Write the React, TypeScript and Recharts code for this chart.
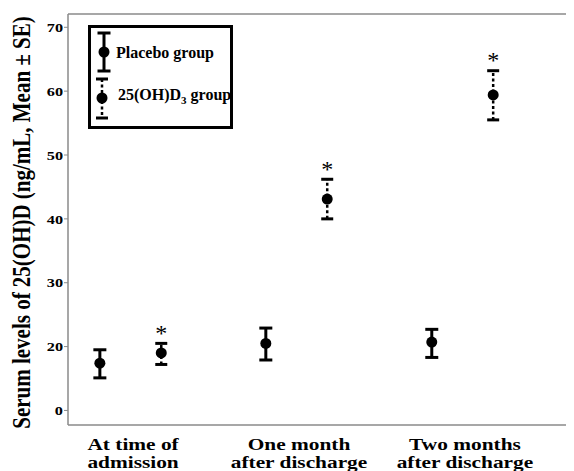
import React from "react";
import {
  ScatterChart,
  Scatter,
  XAxis,
  YAxis,
  ErrorBar,
  ReferenceLine,
  Legend,
  LabelList,
} from "recharts";

// ---------- data ----------
const categories = ["At time of admission", "One month after discharge", "Two months after discharge"];
const categoryLines = [
  ["At time of", "admission"],
  ["One month", "after discharge"],
  ["Two months", "after discharge"],
];
const placeboMean = [17.4, 20.5, 20.7];
const placeboUpper = [19.5, 22.9, 22.7];
const placeboLower = [15.1, 17.9, 18.3];
const d3Mean = [19.0, 43.1, 59.4];
const d3Upper = [20.5, 46.2, 63.2];
const d3Lower = [17.2, 40.0, 55.5];
const d3Marks = ["*", "*", "*"];
const yTickValues = [10, 20, 30, 40, 50, 60, 70];
const yTickLabels = ["0", "20", "30", "40", "50", "60", "70"];
const seriesNames = ["Placebo group", "25(OH)D3 group"];
const yTitle = "Serum levels of 25(OH)D (ng/mL, Mean \u00B1 SE)";

// ---------- layout / style ----------
const FONT = '"Liberation Serif", "Times New Roman", serif';
const AXIS_GRAY = "#8a8a8a";
const PLACEBO_SHIFT = -0.2;
const D3_SHIFT = 0.17;
const X_DOMAIN: [number, number] = [0.608, 3.657];
const Y_DOMAIN: [number, number] = [7.72, 72.08];

const placeboData = categories.map((c, i) => ({
  name: c,
  x: i + 1 + PLACEBO_SHIFT,
  y: placeboMean[i],
  err: [placeboMean[i] - placeboLower[i], placeboUpper[i] - placeboMean[i]],
}));
const d3Data = categories.map((c, i) => ({
  name: c,
  x: i + 1 + D3_SHIFT,
  y: d3Mean[i],
  err: [d3Mean[i] - d3Lower[i], d3Upper[i] - d3Mean[i]],
}));
const d3UpperData = categories.map((c, i) => ({ name: c, x: i + 1 + D3_SHIFT, y: d3Upper[i], mark: d3Marks[i] }));
const d3LowerData = categories.map((c, i) => ({ name: c, x: i + 1 + D3_SHIFT, y: d3Lower[i] }));

const Dot = (p: any) => <circle cx={p.cx} cy={p.cy} r={5.5} fill="#000" />;
const Cap = (p: any) => (
  <line x1={p.cx - 6} x2={p.cx + 6} y1={p.cy} y2={p.cy} stroke="#000" strokeWidth={3} />
);

const YTick = (p: any) => {
  const idx = yTickValues.indexOf(p.payload.value);
  return (
    <g transform={`translate(${p.x},${p.y})`}>
      <text
        x={0}
        y={0}
        dy="0.36em"
        textAnchor="end"
        transform="scale(1.25,1)"
        fontFamily={FONT}
        fontWeight="bold"
        fontSize={13}
        fill="#000"
      >
        {idx >= 0 ? yTickLabels[idx] : p.payload.value}
      </text>
    </g>
  );
};

const XTick = (p: any) => {
  const lines = categoryLines[Math.round(p.payload.value) - 1] || [];
  return (
    <g transform={`translate(${p.x},${p.y})`}>
      {lines.map((l, k) => (
        <text
          key={k}
          x={0}
          y={0}
          textAnchor="middle"
          transform={`translate(0,${22.5 + k * 18.5}) scale(1.22,1)`}
          fontFamily={FONT}
          fontWeight="bold"
          fontSize={17.5}
          fill="#000"
        >
          {l}
        </text>
      ))}
    </g>
  );
};

const YTitle = (p: any) => {
  const vb = p.viewBox || { x: 0, y: 6, width: 60, height: 411 };
  const cx = vb.x + 22;
  const cy = vb.y + vb.height / 2 + 3;
  return (
    <text
      transform={`translate(${cx},${cy}) scale(1.15,1) rotate(-90)`}
      textAnchor="middle"
      fontFamily={FONT}
      fontWeight="bold"
      fontSize={21}
      fill="#000"
    >
      {yTitle}
    </text>
  );
};

const LegendBox = () => (
  <div
    style={{
      position: "relative",
      width: 139,
      height: 98,
      border: "3px solid #000",
      background: "#fff",
      fontFamily: FONT,
      fontWeight: "bold",
      color: "#000",
    }}
  >
    <svg width={139} height={98} style={{ position: "absolute", left: 0, top: 0 }}>
      <line x1={13} y1={5} x2={13} y2={43} stroke="#000" strokeWidth={3} />
      <line x1={6.5} y1={5} x2={19.5} y2={5} stroke="#000" strokeWidth={3} />
      <line x1={6.5} y1={43} x2={19.5} y2={43} stroke="#000" strokeWidth={3} />
      <circle cx={13} cy={24} r={5.5} fill="#000" />
      <line x1={11} y1={51} x2={11} y2={90} stroke="#000" strokeWidth={2.5} strokeDasharray="3 2.5" />
      <line x1={5} y1={51} x2={17} y2={51} stroke="#000" strokeWidth={3} />
      <line x1={5} y1={90} x2={17} y2={90} stroke="#000" strokeWidth={3} />
      <circle cx={11} cy={70} r={5.5} fill="#000" />
    </svg>
    <div
      style={{
        position: "absolute",
        left: 25,
        top: 24,
        transform: "translateY(-50%)",
        fontSize: 16,
        lineHeight: "17px",
        whiteSpace: "nowrap",
      }}
    >
      {seriesNames[0]}
    </div>
    <div
      style={{
        position: "absolute",
        left: 27,
        top: 66,
        transform: "translateY(-50%)",
        fontSize: 16,
        lineHeight: "17px",
        whiteSpace: "nowrap",
      }}
    >
      25(OH)D<sub style={{ fontSize: 11, lineHeight: 0 }}>3</sub> group
    </div>
  </div>
);

export default function App() {
  return (
    <ScatterChart width={566} height={463} margin={{ top: 6, right: 0, bottom: 0, left: 0 }}>
      <XAxis
        type="number"
        dataKey="x"
        domain={X_DOMAIN}
        allowDataOverflow
        ticks={[1, 2, 3]}
        tick={<XTick />}
        tickLine={false}
        tickSize={0}
        height={46}
        axisLine={{ stroke: AXIS_GRAY, strokeWidth: 1.5 }}
      />
      <YAxis
        type="number"
        dataKey="y"
        domain={Y_DOMAIN}
        allowDataOverflow
        ticks={yTickValues}
        tick={<YTick />}
        tickSize={4}
        tickMargin={1}
        width={60}
        tickLine={{ stroke: AXIS_GRAY }}
        axisLine={{ stroke: AXIS_GRAY, strokeWidth: 1.5 }}
        label={<YTitle />}
      />
      <ReferenceLine y={Y_DOMAIN[1]} stroke={AXIS_GRAY} strokeWidth={1.5} />
      <Legend
        layout="vertical"
        align="center"
        verticalAlign="middle"
        content={() => <LegendBox />}
        wrapperStyle={{ left: 80, top: 17, width: 145, height: 104 }}
      />
      <Scatter name={seriesNames[0]} data={placeboData} shape={<Dot />} isAnimationActive={false}>
        <ErrorBar dataKey="err" direction="y" width={6.5} stroke="#000" strokeWidth={3} isAnimationActive={false} />
      </Scatter>
      <Scatter name={seriesNames[1]} data={d3Data} shape={<Dot />} isAnimationActive={false}>
        <ErrorBar
          dataKey="err"
          direction="y"
          width={0}
          stroke="#000"
          strokeWidth={2.5}
          strokeDasharray="3 2.5"
          isAnimationActive={false}
        />
      </Scatter>
      <Scatter data={d3UpperData} shape={<Cap />} legendType="none" isAnimationActive={false}>
        <LabelList
          dataKey="mark"
          position="top"
          offset={-2}
          fill="#000"
          fontSize={24}
          fontFamily={FONT}
        />
      </Scatter>
      <Scatter data={d3LowerData} shape={<Cap />} legendType="none" isAnimationActive={false} />
    </ScatterChart>
  );
}
